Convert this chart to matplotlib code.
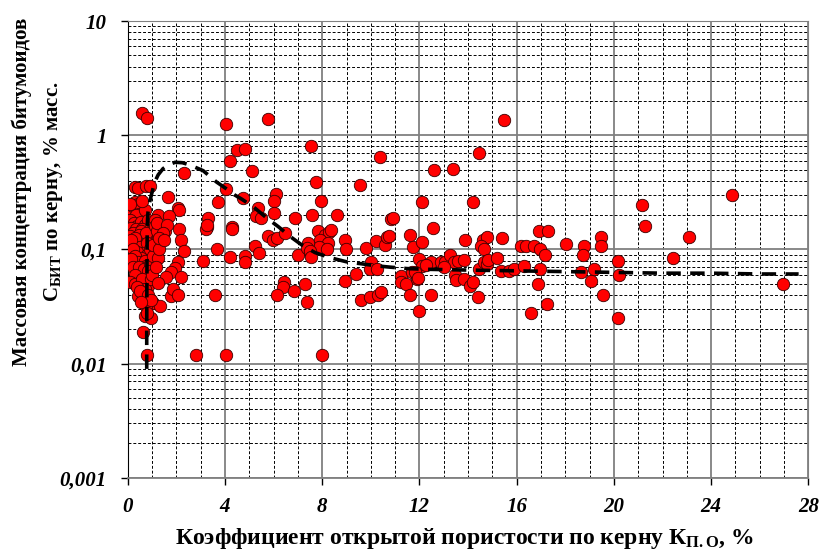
import matplotlib
matplotlib.use("Agg")
import matplotlib.pyplot as plt
from matplotlib.font_manager import FontProperties
from matplotlib.ticker import MultipleLocator, LogLocator, NullFormatter

plt.rcParams['font.family'] = ['Liberation Serif', 'DejaVu Serif']
plt.rcParams['mathtext.fontset'] = 'custom'
plt.rcParams['mathtext.rm'] = 'Liberation Serif:bold'
plt.rcParams['mathtext.bf'] = 'Liberation Serif:bold'
plt.rcParams['mathtext.it'] = 'Liberation Serif:bold'

# porosity (%) and bitumoid concentration (% mass) for each core sample
poro = [
    0.60, 0.79,
    0.29, 0.42, 0.73, 0.92,
    0.05, 0.15, 0.22, 0.30, 0.42, 0.49, 0.55, 0.46, 0.63, 0.35, 0.70, 0.10, 0.58,
    0.10, 0.25, 0.40, 0.55, 0.70, 0.15, 0.32, 0.85, 0.60,
    0.22, 0.56, 0.36, 0.63, 0.22, 0.90, 0.10, 0.45, 0.75, 0.30, 0.50, 0.12, 0.80,
    0.63, 0.40, 0.20, 0.80, 0.55, 0.30, 0.42, 0.70, 0.15, 0.90,
    0.36, 0.56, 0.20, 0.75, 0.45, 0.65, 0.90, 0.30, 0.85,
    0.08, 0.49, 0.83, 0.30, 0.60, 0.70, 0.95, 0.40,
    0.42, 0.63, 1.04, 1.32, 0.77, 0.50, 0.85, 0.95, 0.55,
    0.70, 0.97, 0.63, 0.80, 0.81,
    1.25, 1.11, 1.11, 1.25, 1.04, 1.25, 1.00, 1.15, 1.05, 1.20, 1.30,
    1.66, 2.07, 2.11, 1.70, 1.52, 2.11, 2.18, 2.32, 2.08, 1.93, 1.78, 1.56, 2.17,
    1.25, 1.76, 1.88, 2.05, 2.32, 2.82, 1.22, 1.62, 1.45, 1.30, 1.50,
    3.30, 3.28, 3.20, 3.24, 3.72, 3.67, 3.10, 3.58, 4.03, 4.20, 4.06, 4.27, 4.29,
    4.19, 4.03,
    4.51, 4.84, 5.11, 4.74, 5.36, 5.29, 5.50, 5.25, 5.40, 4.81, 4.81, 5.77, 6.11,
    6.00, 6.00, 5.77, 5.98, 6.16, 6.48, 6.43, 6.39, 6.83, 7.28, 6.14, 7.39, 6.90,
    7.00, 7.52, 7.73, 7.96, 7.60, 7.82, 8.10, 8.27, 8.35, 7.90, 8.24, 7.86, 8.21,
    7.41, 7.39, 7.48, 7.52, 8.62, 8.00,
    8.95, 8.99, 9.57, 9.81, 10.20, 10.57, 10.68, 10.73, 10.84, 10.90, 10.39, 11.60,
    11.73, 12.10, 12.10, 10.02, 9.95, 10.27, 9.40, 8.92, 11.25, 11.25, 11.46, 11.69,
    11.91, 12.00, 12.10, 9.58, 9.95, 10.29, 10.43, 11.60, 12.00,
    15.47, 14.47, 12.60, 13.38, 14.20, 12.55, 13.86, 14.61, 14.79, 14.54, 14.65,
    15.39, 16.16, 16.37, 16.71, 16.98, 17.15, 16.90, 17.28, 18.04, 18.76, 18.72,
    19.48, 19.48, 12.46, 12.90, 13.07, 13.24, 13.42, 13.58, 13.83, 13.00, 12.25,
    11.80, 11.94, 13.45, 13.52, 13.83, 14.10, 14.20, 14.40, 12.46, 14.47, 14.67,
    14.79, 14.84, 15.20, 15.34, 15.70, 15.91, 16.30, 16.94, 16.87, 16.60, 17.24,
    18.65, 19.20, 19.07, 19.57,
    24.86, 21.16, 21.26, 23.10, 22.42, 20.16, 20.23, 20.16, 26.94,
]
bitum = [
    1.58, 1.42,
    0.35, 0.345, 0.36, 0.36,
    0.23, 0.21, 0.24, 0.26, 0.25, 0.22, 0.24, 0.205, 0.19, 0.20, 0.22, 0.25, 0.265,
    0.18, 0.17, 0.16, 0.175, 0.165, 0.155, 0.15, 0.18, 0.15,
    0.14, 0.145, 0.115, 0.12, 0.11, 0.13, 0.13, 0.135, 0.14, 0.125, 0.105, 0.12, 0.115,
    0.093, 0.095, 0.10, 0.09, 0.085, 0.088, 0.078, 0.08, 0.082, 0.10,
    0.066, 0.062, 0.07, 0.072, 0.07, 0.068, 0.075, 0.06, 0.065,
    0.052, 0.052, 0.048, 0.05, 0.055, 0.045, 0.055, 0.047,
    0.039, 0.039, 0.034, 0.032, 0.032, 0.043, 0.04, 0.036, 0.035,
    0.026, 0.025, 0.019, 0.028, 0.012,
    0.20, 0.18, 0.16, 0.125, 0.087, 0.084, 0.06, 0.07, 0.11, 0.145, 0.10,
    0.29, 0.233, 0.22, 0.195, 0.145, 0.15, 0.12, 0.096, 0.077, 0.069, 0.063, 0.057, 0.057,
    0.051, 0.039, 0.045, 0.04, 0.47, 0.012, 0.17, 0.165, 0.14, 0.125, 0.12,
    0.19, 0.157, 0.15, 0.164, 0.26, 0.10, 0.079, 0.04, 1.25, 0.60, 0.337, 0.157, 0.152,
    0.086, 0.012,
    0.75, 0.765, 0.49, 0.28, 0.233, 0.195, 0.189, 0.107, 0.093, 0.087, 0.078, 1.38, 0.307,
    0.266, 0.21, 0.13, 0.12, 0.127, 0.138, 0.052, 0.047, 0.043, 0.05, 0.04, 0.035, 0.19,
    0.09, 0.806, 0.388, 0.266, 0.20, 0.145, 0.133, 0.143, 0.147, 0.12, 0.115, 0.105, 0.10,
    0.113, 0.103, 0.097, 0.086, 0.20, 0.012,
    0.12, 0.10, 0.37, 0.103, 0.118, 0.11, 0.128, 0.13, 0.185, 0.19, 0.646, 0.135,
    0.106, 0.117, 0.258, 0.078, 0.067, 0.067, 0.061, 0.053, 0.058, 0.052, 0.05, 0.063,
    0.055, 0.082, 0.071, 0.036, 0.038, 0.04, 0.042, 0.04, 0.029,
    1.35, 0.705, 0.50, 0.51, 0.26, 0.153, 0.12, 0.12, 0.128, 0.107, 0.10,
    0.126, 0.107, 0.108, 0.107, 0.10, 0.09, 0.145, 0.145, 0.112, 0.107, 0.09,
    0.128, 0.108, 0.078, 0.077, 0.077, 0.089, 0.077, 0.08, 0.081, 0.07, 0.073,
    0.064, 0.056, 0.06, 0.054, 0.055, 0.048, 0.052, 0.038, 0.04, 0.067, 0.077,
    0.074, 0.081, 0.084, 0.065, 0.065, 0.067, 0.071, 0.067, 0.05, 0.028, 0.033,
    0.064, 0.067, 0.053, 0.04,
    0.30, 0.245, 0.159, 0.129, 0.085, 0.08, 0.06, 0.025, 0.05,
]

# trend line through the cloud
trend_x = [0.78, 0.78, 0.785, 0.79, 0.80, 0.83, 0.90, 0.97, 1.11, 1.25, 1.45, 1.7,
           1.95, 2.25, 2.55, 3.1, 3.65, 4.1, 4.4, 4.7, 5.2, 5.7, 6.2, 6.7, 7.2, 7.7,
           8.3, 9.0, 9.6, 10.2, 10.8, 11.5, 12.4, 14, 16, 18, 20, 22, 24, 26, 27.6]
trend_y = [0.009, 0.02, 0.04, 0.07, 0.16, 0.21, 0.26, 0.30, 0.39, 0.45, 0.51, 0.555,
           0.58, 0.575, 0.55, 0.49, 0.39, 0.335, 0.30, 0.275, 0.233, 0.19, 0.158, 0.129,
           0.108, 0.094, 0.085, 0.078, 0.075, 0.072, 0.070, 0.068, 0.067, 0.066, 0.065,
           0.064, 0.063, 0.062, 0.062, 0.061, 0.061]

x_ticks = [0, 4, 8, 12, 16, 20, 24, 28]
x_tick_labels = ['0', '4', '8', '12', '16', '20', '24', '28']
y_ticks = [0.001, 0.01, 0.1, 1, 10]
y_tick_labels = ['0,001', '0,01', '0,1', '1', '10']

# bold italic serif for the tick numbers
tick_fp = FontProperties(family='Liberation Serif', style='italic', weight='bold', size=15)

fig = plt.figure(figsize=(8.19, 5.55), dpi=100)
ax = fig.add_axes([0.156, 0.139, 0.831, 0.823])

ax.scatter(poro, bitum, s=80, c='#ff0000', edgecolors='#3a0000', linewidths=0.6, zorder=3)
ax.plot(trend_x, trend_y, color='black', lw=2.6, dashes=(4, 2.6), zorder=4)

ax.set_yscale('log')
ax.set_xlim(0, 28)
ax.set_ylim(0.001, 10)

ax.set_xticks(x_ticks, x_tick_labels, fontproperties=tick_fp)
ax.set_yticks(y_ticks, y_tick_labels, fontproperties=tick_fp)
ax.xaxis.set_minor_locator(MultipleLocator(1))
ax.yaxis.set_minor_locator(LogLocator(base=10, subs=range(2, 10)))
ax.yaxis.set_minor_formatter(NullFormatter())

ax.grid(which='major', color='#808080', lw=1.3, ls='-', zorder=1)
ax.grid(which='minor', color='black', lw=0.7, ls=(0, (3, 2)), zorder=1)
ax.set_axisbelow(True)

ax.tick_params(axis='x', which='major', direction='out', length=5, width=1, pad=9)
ax.tick_params(axis='y', which='major', direction='out', length=5, width=1, pad=10)
ax.tick_params(which='minor', length=0)

for side in ['top', 'right']:
    ax.spines[side].set_color('#808080')
ax.spines['left'].set_color('black')
ax.spines['bottom'].set_color('#808080')
ax.spines['bottom'].set_linewidth(1.3)

fig.text(0.047, 0.655, 'Массовая концентрация битумоидов\nС$_{\\mathbf{БИТ}}$ по керну, % масс.',
         rotation=90, ha='center', va='center', multialignment='center',
         fontsize=15, fontweight='bold', linespacing=1.6)
fig.text(0.567, 0.03, 'Коэффициент открытой пористости по керну К$_{\\mathbf{П.О}}$, %',
         ha='center', va='center', fontsize=17, fontweight='bold')

fig.savefig('out.png', dpi=100)
